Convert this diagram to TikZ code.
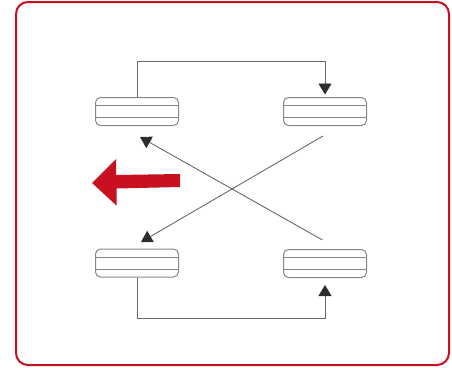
\documentclass[tikz,border=0pt]{standalone}
\usetikzlibrary{arrows.meta,calc}
\definecolor{brandred}{RGB}{200,16,32}
\definecolor{boxgray}{RGB}{135,135,135}
\definecolor{linegray}{RGB}{105,105,105}
\definecolor{headgray}{RGB}{45,45,45}
\begin{document}
\begin{tikzpicture}[x=1pt,y=-1pt,
  tire/.style={draw=boxgray, line width=1pt, rounded corners=5pt,
    minimum width=83pt, minimum height=28pt, inner sep=0pt,
    path picture={
      \draw[boxgray, line width=1pt]
        ([yshift=-8pt]path picture bounding box.north west) --
        ([yshift=-8pt]path picture bounding box.north east);
      \draw[boxgray, line width=1pt]
        ([yshift=-20pt]path picture bounding box.north west) --
        ([yshift=-20pt]path picture bounding box.north east);
    }},
  conn/.style={draw=linegray, line width=0.9pt,
    -{Triangle[length=11pt,width=13pt,color=headgray]}}]
\useasboundingbox (0,0) rectangle (452,367);
\draw[brandred, line width=2pt, rounded corners=12pt] (16,2) rectangle (449,365);

\node[tire] (tl) at (137,111.5) {};
\node[tire] (tr) at (325,111.5) {};
\node[tire] (bl) at (137,263) {};
\node[tire] (br) at (325,263.5) {};

\coordinate (topy) at (0,61);
\coordinate (boty) at (0,318);
\coordinate (trout) at (323,136);
\coordinate (brout) at (322.5,240);
\coordinate (tlin) at (140,137);
\coordinate (blin) at (141,242);

\draw[conn] (tl.north) -- (tl.north |- topy) -- (tr.north |- topy) -- ([yshift=2.5pt]tr.north);
\draw[conn] (bl.south) -- (bl.south |- boty) -- (br.south |- boty) -- ([yshift=-7pt]br.south);
\draw[conn] (trout) -- (blin);
\draw[conn] (brout) -- (tlin);

\fill[brandred] (92,183) -- (116,159) -- (116,175) -- (180,174) -- (180,187)
  -- (116.5,188.5) -- (116.5,205.5) -- cycle;
\end{tikzpicture}
\end{document}
